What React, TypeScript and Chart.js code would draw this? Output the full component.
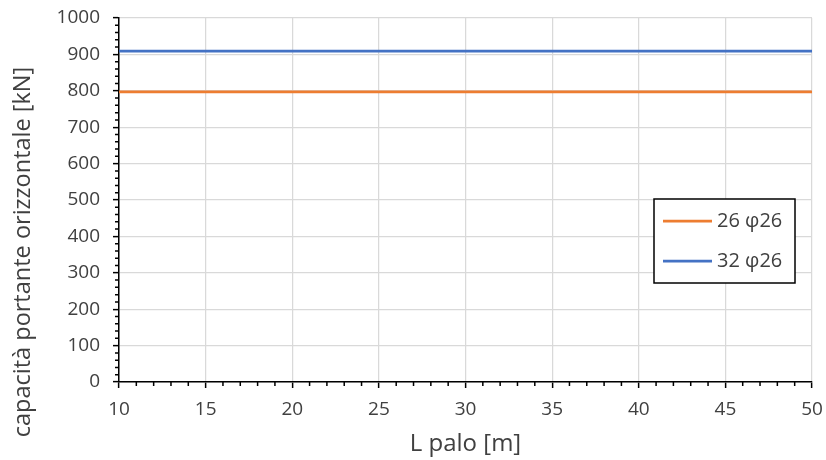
import React, { useEffect, useRef } from "react";
import { Chart, registerables } from "chart.js";

Chart.register(...registerables);

const lengths = [10, 15, 20, 25, 30, 35, 40, 45, 50];
const series26 = [797, 797, 797, 797, 797, 797, 797, 797, 797];
const series32 = [909, 909, 909, 909, 909, 909, 909, 909, 909];
const seriesLabels = ["26 φ26", "32 φ26"];
const seriesColors = ["#ED7D31", "#4472C4"];
const xTitle = "L palo [m]";
const yTitle = "capacità portante orizzontale [kN]";

const FONT = "'Open Sans', 'Noto Sans', sans-serif";
const TEXT = "#404040";

const extrasPlugin = {
  id: "extras",
  afterDraw(chart: any) {
    const ctx = chart.ctx;
    const xs = chart.scales.x;
    const ys = chart.scales.y;
    const area = chart.chartArea;
    ctx.save();
    // minor ticks
    ctx.strokeStyle = "#000";
    ctx.lineWidth = 1.5;
    ctx.beginPath();
    for (let v = xs.min; v <= xs.max; v += 1) {
      if (v % 5 === 0) continue;
      const px = xs.getPixelForValue(v);
      ctx.moveTo(px, area.bottom);
      ctx.lineTo(px, area.bottom + 4);
    }
    for (let v = ys.min; v <= ys.max; v += 20) {
      if (v % 100 === 0) continue;
      const py = ys.getPixelForValue(v);
      ctx.moveTo(area.left, py);
      ctx.lineTo(area.left - 4, py);
    }
    ctx.stroke();

    // y title
    ctx.fillStyle = TEXT;
    ctx.font = `23.5px ${FONT}`;
    ctx.textAlign = "center";
    ctx.textBaseline = "middle";
    ctx.translate(23, 252);
    ctx.rotate(-Math.PI / 2);
    ctx.fillText(yTitle, 0, 0);
    ctx.restore();

    // legend
    ctx.save();
    const bx = 654, by = 199, bw = 141, bh = 84;
    ctx.fillStyle = "#fff";
    ctx.fillRect(bx, by, bw, bh);
    ctx.strokeStyle = "#000";
    ctx.lineWidth = 1.5;
    ctx.strokeRect(bx, by, bw, bh);
    chart.data.datasets.forEach((ds: any, i: number) => {
      const yy = by + 22 + i * 40;
      ctx.strokeStyle = ds.borderColor;
      ctx.lineWidth = 2.75;
      ctx.beginPath();
      ctx.moveTo(bx + 9, yy);
      ctx.lineTo(bx + 58, yy);
      ctx.stroke();
      ctx.fillStyle = TEXT;
      ctx.font = `20px ${FONT}`;
      ctx.textAlign = "left";
      ctx.textBaseline = "middle";
      ctx.fillText(ds.label, bx + 63, yy);
    });
    ctx.restore();
  },
};

export default function App() {
  const ref = useRef<HTMLCanvasElement>(null);
  useEffect(() => {
    document.body.style.margin = "0";
    const datasets = [series26, series32].map((vals, i) => ({
      label: seriesLabels[i],
      data: lengths.map((x, j) => ({ x, y: vals[j] })),
      borderColor: seriesColors[i],
      backgroundColor: seriesColors[i],
      borderWidth: 2.75,
      pointRadius: 0,
      tension: 0,
    }));
    const chart = new Chart(ref.current!, {
      type: "line",
      data: { datasets },
      plugins: [extrasPlugin],
      options: {
        animation: false,
        responsive: false,
        maintainAspectRatio: false,
        layout: { padding: { top: 18, right: 14, left: 0, bottom: 0 } },
        plugins: { legend: { display: false }, tooltip: { enabled: false } },
        scales: {
          x: {
            type: "linear",
            min: 10,
            max: 50,
            afterFit: (s: any) => {
              s.height = 78;
              s.paddingLeft = 0;
              s.paddingRight = 0;
            },
            ticks: {
              stepSize: 5,
              color: TEXT,
              font: { family: FONT, size: 19 },
              padding: 10,
              maxRotation: 0,
              callback: (v: any) => String(v),
            },
            grid: {
              color: "#d9d9d9",
              lineWidth: 1.25,
              tickColor: "#000",
              tickLength: 6,
              tickWidth: 1.5,
            },
            border: { display: true, color: "#000", width: 1.5 },
            title: {
              display: true,
              text: xTitle,
              color: TEXT,
              font: { family: FONT, size: 24 },
              padding: { top: 0, bottom: 1 },
            },
          },
          y: {
            min: 0,
            max: 1000,
            afterFit: (s: any) => {
              s.width = 119;
              s.paddingTop = 0;
              s.paddingBottom = 0;
            },
            ticks: {
              stepSize: 100,
              color: TEXT,
              font: { family: FONT, size: 19 },
              padding: 13,
              callback: (v: any) => String(v),
            },
            grid: {
              color: "#d9d9d9",
              lineWidth: 1.25,
              tickColor: "#000",
              tickLength: 6,
              tickWidth: 1.5,
            },
            border: { display: true, color: "#000", width: 1.5 },
          },
        },
      } as any,
    });
    return () => chart.destroy();
  }, []);
  return (
    <div style={{ width: 826, height: 460 }}>
      <canvas ref={ref} width={826} height={460} style={{ display: "block" }} />
    </div>
  );
}
